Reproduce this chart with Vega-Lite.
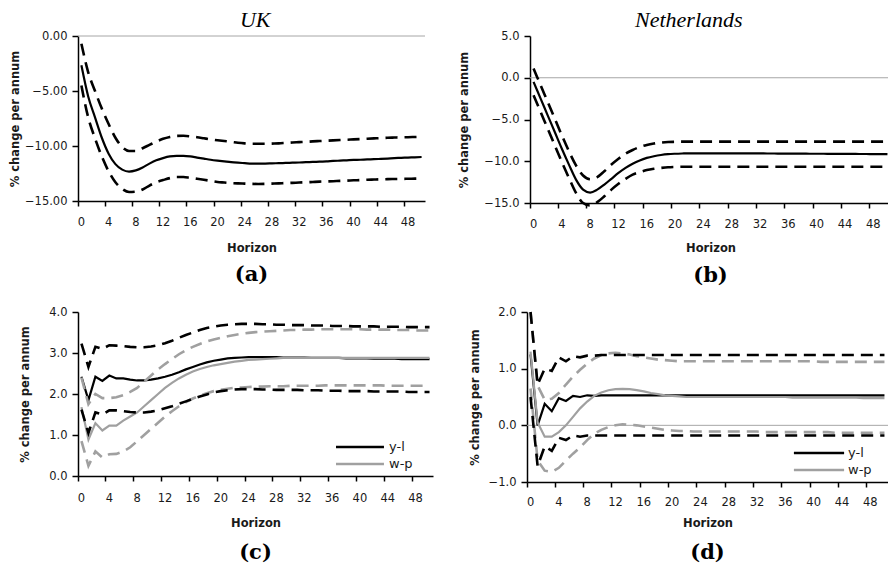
{
"$schema": "https://vega.github.io/schema/vega-lite/v6.json",
"padding": {"left": 9, "top": 9, "right": 0, "bottom": 0},
"config": {
  "view": {"stroke": null},
  "font": "DejaVu Sans",
  "axis": {"labelFont": "DejaVu Sans", "labelFontSize": 11.5, "labelColor": "#1a1a1a", "titleFont": "DejaVu Sans", "titleFontSize": 11.5, "titleFontWeight": "bold", "titleColor": "#1a1a1a", "domainColor": "#000000", "tickColor": "#000000", "domainWidth": 1.5, "tickWidth": 1.5, "grid": false},
  "title": {"color": "#000000"}
},
"datasets": {
"a": [
{"h":0,"m":-2.66,"u":-0.7,"l":-4.5},{"h":1,"m":-5.5,"u":-3.3,"l":-7.4},{"h":2,"m":-7.4,"u":-5.0,"l":-9.3},{"h":3,"m":-9.25,"u":-6.6,"l":-10.95},{"h":4,"m":-10.7,"u":-8.0,"l":-12.3},{"h":5,"m":-11.65,"u":-9.25,"l":-13.3},{"h":6,"m":-12.15,"u":-10.1,"l":-13.9},{"h":7,"m":-12.33,"u":-10.45,"l":-14.18},{"h":8,"m":-12.22,"u":-10.45,"l":-14.15},{"h":9,"m":-11.95,"u":-10.2,"l":-13.95},
{"h":10,"m":-11.6,"u":-9.9,"l":-13.6},{"h":11,"m":-11.3,"u":-9.6,"l":-13.3},{"h":12,"m":-11.1,"u":-9.35,"l":-13.1},{"h":13,"m":-10.95,"u":-9.18,"l":-12.92},{"h":14,"m":-10.9,"u":-9.08,"l":-12.82},{"h":15,"m":-10.9,"u":-9.07,"l":-12.82},{"h":16,"m":-10.95,"u":-9.12,"l":-12.9},{"h":17,"m":-11.05,"u":-9.2,"l":-12.98},{"h":18,"m":-11.15,"u":-9.3,"l":-13.07},{"h":19,"m":-11.25,"u":-9.4,"l":-13.17},
{"h":20,"m":-11.33,"u":-9.48,"l":-13.27},{"h":21,"m":-11.4,"u":-9.55,"l":-13.32},{"h":22,"m":-11.47,"u":-9.62,"l":-13.37},{"h":23,"m":-11.52,"u":-9.7,"l":-13.4},{"h":24,"m":-11.56,"u":-9.76,"l":-13.42},{"h":25,"m":-11.6,"u":-9.8,"l":-13.44},{"h":26,"m":-11.6,"u":-9.8,"l":-13.45},{"h":27,"m":-11.6,"u":-9.8,"l":-13.44},{"h":28,"m":-11.58,"u":-9.78,"l":-13.42},{"h":29,"m":-11.56,"u":-9.76,"l":-13.4},
{"h":30,"m":-11.54,"u":-9.72,"l":-13.37},{"h":31,"m":-11.52,"u":-9.68,"l":-13.35},{"h":32,"m":-11.5,"u":-9.65,"l":-13.32},{"h":33,"m":-11.47,"u":-9.62,"l":-13.3},{"h":34,"m":-11.45,"u":-9.58,"l":-13.27},{"h":35,"m":-11.42,"u":-9.55,"l":-13.24},{"h":36,"m":-11.4,"u":-9.52,"l":-13.22},{"h":37,"m":-11.36,"u":-9.49,"l":-13.2},{"h":38,"m":-11.33,"u":-9.46,"l":-13.17},{"h":39,"m":-11.3,"u":-9.43,"l":-13.15},
{"h":40,"m":-11.27,"u":-9.4,"l":-13.12},{"h":41,"m":-11.25,"u":-9.37,"l":-13.1},{"h":42,"m":-11.22,"u":-9.34,"l":-13.07},{"h":43,"m":-11.2,"u":-9.31,"l":-13.05},{"h":44,"m":-11.17,"u":-9.28,"l":-13.03},{"h":45,"m":-11.14,"u":-9.25,"l":-13.01},{"h":46,"m":-11.1,"u":-9.23,"l":-13.0},{"h":47,"m":-11.08,"u":-9.21,"l":-12.99},{"h":48,"m":-11.05,"u":-9.2,"l":-12.98},{"h":49,"m":-11.03,"u":-9.18,"l":-12.97},{"h":50,"m":-11.0,"u":-9.16,"l":-12.96}
],
"b": [
{"h":0,"m":-0.5,"u":1.1,"l":-2.1},{"h":1,"m":-2.5,"u":-0.9,"l":-4.1},{"h":2,"m":-4.5,"u":-2.9,"l":-6.1},{"h":3,"m":-6.5,"u":-4.9,"l":-8.1},{"h":4,"m":-8.5,"u":-6.9,"l":-10.1},{"h":5,"m":-10.4,"u":-8.8,"l":-12.0},{"h":6,"m":-12.2,"u":-10.5,"l":-13.8},{"h":7,"m":-13.4,"u":-11.7,"l":-15.0},{"h":8,"m":-13.75,"u":-12.15,"l":-15.3},{"h":9,"m":-13.4,"u":-11.9,"l":-14.9},
{"h":10,"m":-12.8,"u":-11.2,"l":-14.2},{"h":11,"m":-12.1,"u":-10.4,"l":-13.4},{"h":12,"m":-11.4,"u":-9.7,"l":-12.7},{"h":13,"m":-10.8,"u":-9.1,"l":-12.1},{"h":14,"m":-10.3,"u":-8.65,"l":-11.6},{"h":15,"m":-9.9,"u":-8.3,"l":-11.3},{"h":16,"m":-9.6,"u":-8.05,"l":-11.05},{"h":17,"m":-9.4,"u":-7.88,"l":-10.9},{"h":18,"m":-9.25,"u":-7.77,"l":-10.8},{"h":19,"m":-9.15,"u":-7.7,"l":-10.72},
{"h":20,"m":-9.1,"u":-7.67,"l":-10.68},{"h":21,"m":-9.07,"u":-7.65,"l":-10.65},{"h":22,"m":-9.05,"u":-7.65,"l":-10.65},{"h":23,"m":-9.05,"u":-7.65,"l":-10.65},{"h":24,"m":-9.05,"u":-7.65,"l":-10.65},{"h":25,"m":-9.05,"u":-7.65,"l":-10.65},{"h":26,"m":-9.05,"u":-7.65,"l":-10.65},{"h":27,"m":-9.05,"u":-7.65,"l":-10.65},{"h":28,"m":-9.05,"u":-7.65,"l":-10.65},{"h":29,"m":-9.05,"u":-7.65,"l":-10.65},
{"h":30,"m":-9.05,"u":-7.65,"l":-10.65},{"h":31,"m":-9.06,"u":-7.65,"l":-10.65},{"h":32,"m":-9.06,"u":-7.65,"l":-10.65},{"h":33,"m":-9.07,"u":-7.65,"l":-10.65},{"h":34,"m":-9.07,"u":-7.65,"l":-10.65},{"h":35,"m":-9.08,"u":-7.65,"l":-10.65},{"h":36,"m":-9.08,"u":-7.65,"l":-10.65},{"h":37,"m":-9.09,"u":-7.65,"l":-10.65},{"h":38,"m":-9.09,"u":-7.65,"l":-10.65},{"h":39,"m":-9.1,"u":-7.65,"l":-10.65},
{"h":40,"m":-9.1,"u":-7.65,"l":-10.65},{"h":41,"m":-9.1,"u":-7.65,"l":-10.65},{"h":42,"m":-9.11,"u":-7.65,"l":-10.65},{"h":43,"m":-9.11,"u":-7.65,"l":-10.65},{"h":44,"m":-9.12,"u":-7.65,"l":-10.65},{"h":45,"m":-9.12,"u":-7.65,"l":-10.65},{"h":46,"m":-9.13,"u":-7.65,"l":-10.65},{"h":47,"m":-9.13,"u":-7.65,"l":-10.65},{"h":48,"m":-9.14,"u":-7.65,"l":-10.65},{"h":49,"m":-9.14,"u":-7.65,"l":-10.65},{"h":50,"m":-9.15,"u":-7.65,"l":-10.65}
],
"c": [
{"h":0,"y":2.42,"yu":3.23,"yl":1.62,"w":1.68,"wu":2.4,"wl":0.85},
{"h":1,"y":1.85,"yu":2.66,"yl":1.05,"w":0.89,"wu":1.75,"wl":0.25},
{"h":2,"y":2.42,"yu":3.15,"yl":1.55,"w":1.29,"wu":2.0,"wl":0.6},
{"h":3,"y":2.32,"yu":3.1,"yl":1.5,"w":1.11,"wu":1.9,"wl":0.45},
{"h":4,"y":2.45,"yu":3.19,"yl":1.6,"w":1.23,"wu":1.9,"wl":0.53},
{"h":5,"y":2.38,"yu":3.18,"yl":1.6,"w":1.23,"wu":1.92,"wl":0.54},
{"h":6,"y":2.38,"yu":3.17,"yl":1.58,"w":1.35,"wu":1.97,"wl":0.6},
{"h":7,"y":2.35,"yu":3.15,"yl":1.56,"w":1.45,"wu":2.05,"wl":0.7},
{"h":8,"y":2.33,"yu":3.14,"yl":1.55,"w":1.55,"wu":2.15,"wl":0.85},
{"h":9,"y":2.33,"yu":3.14,"yl":1.55,"w":1.7,"wu":2.3,"wl":1.0},
{"h":10,"y":2.35,"yu":3.16,"yl":1.57,"w":1.85,"wu":2.45,"wl":1.15},
{"h":11,"y":2.38,"yu":3.19,"yl":1.6,"w":2.0,"wu":2.6,"wl":1.3},
{"h":12,"y":2.42,"yu":3.24,"yl":1.65,"w":2.15,"wu":2.73,"wl":1.45},
{"h":13,"y":2.47,"yu":3.3,"yl":1.7,"w":2.27,"wu":2.85,"wl":1.58},
{"h":14,"y":2.53,"yu":3.37,"yl":1.76,"w":2.38,"wu":2.97,"wl":1.7},
{"h":15,"y":2.6,"yu":3.44,"yl":1.82,"w":2.47,"wu":3.07,"wl":1.8},
{"h":16,"y":2.66,"yu":3.5,"yl":1.88,"w":2.55,"wu":3.15,"wl":1.89},
{"h":17,"y":2.72,"yu":3.56,"yl":1.94,"w":2.61,"wu":3.22,"wl":1.96},
{"h":18,"y":2.77,"yu":3.61,"yl":1.99,"w":2.66,"wu":3.28,"wl":2.02},
{"h":19,"y":2.81,"yu":3.64,"yl":2.04,"w":2.7,"wu":3.33,"wl":2.07},
{"h":20,"y":2.84,"yu":3.67,"yl":2.07,"w":2.73,"wu":3.37,"wl":2.1},
{"h":21,"y":2.87,"yu":3.69,"yl":2.09,"w":2.76,"wu":3.41,"wl":2.13},
{"h":22,"y":2.88,"yu":3.7,"yl":2.11,"w":2.79,"wu":3.44,"wl":2.15},
{"h":23,"y":2.89,"yu":3.71,"yl":2.12,"w":2.81,"wu":3.47,"wl":2.16},
{"h":24,"y":2.9,"yu":3.71,"yl":2.12,"w":2.83,"wu":3.49,"wl":2.17},
{"h":25,"y":2.9,"yu":3.71,"yl":2.12,"w":2.84,"wu":3.51,"wl":2.18},
{"h":26,"y":2.9,"yu":3.7,"yl":2.11,"w":2.85,"wu":3.52,"wl":2.18},
{"h":27,"y":2.9,"yu":3.7,"yl":2.11,"w":2.86,"wu":3.53,"wl":2.19},
{"h":28,"y":2.9,"yu":3.69,"yl":2.1,"w":2.87,"wu":3.54,"wl":2.19},
{"h":29,"y":2.89,"yu":3.69,"yl":2.1,"w":2.88,"wu":3.55,"wl":2.19},
{"h":30,"y":2.89,"yu":3.68,"yl":2.1,"w":2.88,"wu":3.56,"wl":2.2},
{"h":31,"y":2.89,"yu":3.68,"yl":2.1,"w":2.88,"wu":3.56,"wl":2.2},
{"h":32,"y":2.89,"yu":3.68,"yl":2.09,"w":2.88,"wu":3.57,"wl":2.2},
{"h":33,"y":2.88,"yu":3.67,"yl":2.09,"w":2.88,"wu":3.57,"wl":2.2},
{"h":34,"y":2.88,"yu":3.67,"yl":2.09,"w":2.88,"wu":3.58,"wl":2.2},
{"h":35,"y":2.88,"yu":3.67,"yl":2.08,"w":2.88,"wu":3.58,"wl":2.21},
{"h":36,"y":2.88,"yu":3.66,"yl":2.08,"w":2.88,"wu":3.58,"wl":2.21},
{"h":37,"y":2.88,"yu":3.66,"yl":2.08,"w":2.88,"wu":3.58,"wl":2.21},
{"h":38,"y":2.87,"yu":3.66,"yl":2.07,"w":2.88,"wu":3.58,"wl":2.21},
{"h":39,"y":2.87,"yu":3.65,"yl":2.07,"w":2.88,"wu":3.58,"wl":2.21},
{"h":40,"y":2.87,"yu":3.65,"yl":2.07,"w":2.88,"wu":3.58,"wl":2.21},
{"h":41,"y":2.87,"yu":3.65,"yl":2.07,"w":2.88,"wu":3.57,"wl":2.21},
{"h":42,"y":2.86,"yu":3.65,"yl":2.06,"w":2.88,"wu":3.57,"wl":2.21},
{"h":43,"y":2.86,"yu":3.64,"yl":2.06,"w":2.88,"wu":3.57,"wl":2.21},
{"h":44,"y":2.86,"yu":3.64,"yl":2.06,"w":2.88,"wu":3.57,"wl":2.2},
{"h":45,"y":2.86,"yu":3.64,"yl":2.06,"w":2.88,"wu":3.56,"wl":2.2},
{"h":46,"y":2.85,"yu":3.64,"yl":2.06,"w":2.88,"wu":3.56,"wl":2.2},
{"h":47,"y":2.85,"yu":3.63,"yl":2.05,"w":2.88,"wu":3.56,"wl":2.2},
{"h":48,"y":2.85,"yu":3.63,"yl":2.05,"w":2.88,"wu":3.55,"wl":2.2},
{"h":49,"y":2.85,"yu":3.63,"yl":2.05,"w":2.88,"wu":3.55,"wl":2.2},
{"h":50,"y":2.85,"yu":3.63,"yl":2.05,"w":2.88,"wu":3.55,"wl":2.2}
],
"d": [
{"h":0,"y":1.25,"yu":2.0,"yl":0.5,"w":1.3,"wu":2.0,"wl":0.65},
{"h":1,"y":0.0,"yu":0.72,"yl":-0.72,"w":0.05,"wu":0.7,"wl":-0.62},
{"h":2,"y":0.38,"yu":1.0,"yl":-0.37,"w":-0.2,"wu":0.45,"wl":-0.8},
{"h":3,"y":0.25,"yu":0.96,"yl":-0.45,"w":-0.2,"wu":0.47,"wl":-0.82},
{"h":4,"y":0.48,"yu":1.2,"yl":-0.22,"w":-0.12,"wu":0.57,"wl":-0.75},
{"h":5,"y":0.43,"yu":1.13,"yl":-0.26,"w":0.0,"wu":0.72,"wl":-0.62},
{"h":6,"y":0.52,"yu":1.22,"yl":-0.18,"w":0.15,"wu":0.86,"wl":-0.5},
{"h":7,"y":0.5,"yu":1.2,"yl":-0.2,"w":0.3,"wu":0.98,"wl":-0.39},
{"h":8,"y":0.53,"yu":1.23,"yl":-0.18,"w":0.42,"wu":1.09,"wl":-0.26},
{"h":9,"y":0.52,"yu":1.23,"yl":-0.18,"w":0.52,"wu":1.18,"wl":-0.15},
{"h":10,"y":0.53,"yu":1.24,"yl":-0.18,"w":0.58,"wu":1.24,"wl":-0.08},
{"h":11,"y":0.53,"yu":1.24,"yl":-0.18,"w":0.62,"wu":1.27,"wl":-0.03},
{"h":12,"y":0.53,"yu":1.24,"yl":-0.18,"w":0.64,"wu":1.28,"wl":0.0},
{"h":13,"y":0.53,"yu":1.24,"yl":-0.18,"w":0.645,"wu":1.27,"wl":0.02},
{"h":14,"y":0.53,"yu":1.24,"yl":-0.18,"w":0.64,"wu":1.25,"wl":0.01},
{"h":15,"y":0.53,"yu":1.24,"yl":-0.18,"w":0.62,"wu":1.22,"wl":0.0},
{"h":16,"y":0.53,"yu":1.24,"yl":-0.18,"w":0.6,"wu":1.2,"wl":-0.02},
{"h":17,"y":0.53,"yu":1.24,"yl":-0.18,"w":0.57,"wu":1.18,"wl":-0.04},
{"h":18,"y":0.53,"yu":1.24,"yl":-0.18,"w":0.55,"wu":1.16,"wl":-0.06},
{"h":19,"y":0.53,"yu":1.24,"yl":-0.18,"w":0.53,"wu":1.15,"wl":-0.08},
{"h":20,"y":0.53,"yu":1.24,"yl":-0.18,"w":0.52,"wu":1.14,"wl":-0.09},
{"h":21,"y":0.53,"yu":1.24,"yl":-0.18,"w":0.51,"wu":1.13,"wl":-0.1},
{"h":22,"y":0.53,"yu":1.24,"yl":-0.18,"w":0.5,"wu":1.13,"wl":-0.1},
{"h":23,"y":0.53,"yu":1.24,"yl":-0.18,"w":0.5,"wu":1.13,"wl":-0.11},
{"h":24,"y":0.53,"yu":1.24,"yl":-0.18,"w":0.5,"wu":1.13,"wl":-0.11},
{"h":25,"y":0.53,"yu":1.24,"yl":-0.18,"w":0.5,"wu":1.13,"wl":-0.11},
{"h":26,"y":0.53,"yu":1.24,"yl":-0.18,"w":0.5,"wu":1.13,"wl":-0.11},
{"h":27,"y":0.53,"yu":1.24,"yl":-0.18,"w":0.5,"wu":1.13,"wl":-0.11},
{"h":28,"y":0.53,"yu":1.24,"yl":-0.18,"w":0.5,"wu":1.13,"wl":-0.11},
{"h":29,"y":0.53,"yu":1.24,"yl":-0.18,"w":0.5,"wu":1.13,"wl":-0.11},
{"h":30,"y":0.53,"yu":1.24,"yl":-0.18,"w":0.5,"wu":1.13,"wl":-0.11},
{"h":31,"y":0.53,"yu":1.24,"yl":-0.18,"w":0.5,"wu":1.13,"wl":-0.11},
{"h":32,"y":0.53,"yu":1.24,"yl":-0.18,"w":0.5,"wu":1.13,"wl":-0.11},
{"h":33,"y":0.53,"yu":1.24,"yl":-0.18,"w":0.5,"wu":1.13,"wl":-0.12},
{"h":34,"y":0.53,"yu":1.24,"yl":-0.18,"w":0.5,"wu":1.13,"wl":-0.12},
{"h":35,"y":0.53,"yu":1.24,"yl":-0.18,"w":0.5,"wu":1.13,"wl":-0.12},
{"h":36,"y":0.53,"yu":1.24,"yl":-0.18,"w":0.5,"wu":1.13,"wl":-0.12},
{"h":37,"y":0.53,"yu":1.24,"yl":-0.18,"w":0.49,"wu":1.13,"wl":-0.12},
{"h":38,"y":0.53,"yu":1.24,"yl":-0.18,"w":0.49,"wu":1.13,"wl":-0.12},
{"h":39,"y":0.53,"yu":1.24,"yl":-0.18,"w":0.49,"wu":1.13,"wl":-0.12},
{"h":40,"y":0.53,"yu":1.24,"yl":-0.18,"w":0.49,"wu":1.13,"wl":-0.12},
{"h":41,"y":0.53,"yu":1.24,"yl":-0.18,"w":0.49,"wu":1.12,"wl":-0.12},
{"h":42,"y":0.53,"yu":1.24,"yl":-0.18,"w":0.49,"wu":1.12,"wl":-0.12},
{"h":43,"y":0.53,"yu":1.24,"yl":-0.18,"w":0.49,"wu":1.12,"wl":-0.13},
{"h":44,"y":0.53,"yu":1.24,"yl":-0.18,"w":0.49,"wu":1.12,"wl":-0.13},
{"h":45,"y":0.53,"yu":1.24,"yl":-0.18,"w":0.49,"wu":1.12,"wl":-0.13},
{"h":46,"y":0.53,"yu":1.24,"yl":-0.18,"w":0.49,"wu":1.12,"wl":-0.13},
{"h":47,"y":0.53,"yu":1.24,"yl":-0.18,"w":0.48,"wu":1.12,"wl":-0.13},
{"h":48,"y":0.53,"yu":1.24,"yl":-0.18,"w":0.48,"wu":1.12,"wl":-0.13},
{"h":49,"y":0.53,"yu":1.24,"yl":-0.18,"w":0.48,"wu":1.12,"wl":-0.13},
{"h":50,"y":0.53,"yu":1.24,"yl":-0.18,"w":0.48,"wu":1.12,"wl":-0.13}
]
},
"spacing": 20,
"vconcat": [
{
"spacing": 31,
"hconcat": [
{
"title": {"text": "UK", "font": "Liberation Serif", "fontStyle": "italic", "fontWeight": "normal", "fontSize": 22, "anchor": "middle", "frame": "bounds", "dx": 37, "offset": -2},
"vconcat": [
{
"width": 347, "height": 165,
"data": {"name": "a"},
"title": {"text": "(a)", "orient": "bottom", "font": "DejaVu Serif", "fontWeight": "bold", "fontSize": 21, "anchor": "middle", "frame": "group", "offset": 10},
"layer": [
{"data": {"values": [{}]}, "mark": {"type": "rule", "color": "#a6a6a6", "strokeWidth": 1}, "encoding": {"y": {"datum": 0}}},
{"mark": {"type": "line", "color": "#000000", "strokeWidth": 2.2, "interpolate": "monotone"},
 "encoding": {
  "x": {"field": "h", "type": "ordinal", "title": "Horizon", "scale": {"type": "band", "paddingInner": 0, "paddingOuter": 0}, "axis": {"values": [0,4,8,12,16,20,24,28,32,36,40,44,48], "bandPosition": 0, "labelAngle": 0, "tickSize": 5, "labelPadding": 10, "titlePadding": 14.7}},
  "y": {"field": "m", "type": "quantitative", "title": "% change per annum", "scale": {"domain": [-15, 0], "nice": false, "zero": false}, "axis": {"values": [-15,-12.5,-10,-7.5,-5,-2.5,0], "format": ".2f", "tickSize": 6, "labelPadding": 5, "minExtent": 52, "maxExtent": 52, "titlePadding": 5.4}}
 }},
{"mark": {"type": "line", "color": "#000000", "strokeWidth": 2.6, "strokeDash": [12, 7], "interpolate": "monotone"},
 "encoding": {"x": {"field": "h", "type": "ordinal", "title": "Horizon"}, "y": {"field": "u", "type": "quantitative", "title": "% change per annum"}}},
{"mark": {"type": "line", "color": "#000000", "strokeWidth": 2.6, "strokeDash": [12, 7], "interpolate": "monotone"},
 "encoding": {"x": {"field": "h", "type": "ordinal", "title": "Horizon"}, "y": {"field": "l", "type": "quantitative", "title": "% change per annum"}}}
]
}
]
},
{
"title": {"text": "Netherlands", "font": "Liberation Serif", "fontStyle": "italic", "fontWeight": "normal", "fontSize": 22, "anchor": "middle", "frame": "bounds", "dx": 13, "offset": -2},
"vconcat": [
{
"width": 361, "height": 167,
"data": {"name": "b"},
"title": {"text": "(b)", "orient": "bottom", "font": "DejaVu Serif", "fontWeight": "bold", "fontSize": 21, "anchor": "middle", "frame": "group", "offset": 11},
"layer": [
{"data": {"values": [{}]}, "mark": {"type": "rule", "color": "#a6a6a6", "strokeWidth": 1}, "encoding": {"y": {"datum": 0}}},
{"mark": {"type": "line", "color": "#000000", "strokeWidth": 2.2, "interpolate": "monotone"},
 "encoding": {
  "x": {"field": "h", "type": "ordinal", "title": "Horizon", "scale": {"type": "band", "paddingInner": 0, "paddingOuter": 0}, "axis": {"values": [0,4,8,12,16,20,24,28,32,36,40,44,48], "bandPosition": 0, "labelAngle": 0, "tickSize": 5, "labelPadding": 10, "titlePadding": 12.7}},
  "y": {"field": "m", "type": "quantitative", "title": "% change per annum", "scale": {"domain": [-15, 5], "nice": false, "zero": false}, "axis": {"values": [-15,-10,-5,0,5], "format": ".1f", "tickSize": 6, "labelPadding": 5, "minExtent": 54.7, "maxExtent": 54.7, "titlePadding": 5.4}}
 }},
{"mark": {"type": "line", "color": "#000000", "strokeWidth": 2.6, "strokeDash": [12, 7], "interpolate": "monotone"},
 "encoding": {"x": {"field": "h", "type": "ordinal", "title": "Horizon"}, "y": {"field": "u", "type": "quantitative", "title": "% change per annum"}}},
{"mark": {"type": "line", "color": "#000000", "strokeWidth": 2.6, "strokeDash": [12, 7], "interpolate": "monotone"},
 "encoding": {"x": {"field": "h", "type": "ordinal", "title": "Horizon"}, "y": {"field": "l", "type": "quantitative", "title": "% change per annum"}}}
]
}
]
}
]
},
{
"spacing": 34,
"resolve": {"scale": {"stroke": "independent"}, "legend": {"stroke": "independent"}},
"hconcat": [
{
"width": 355, "height": 164,
"data": {"name": "c"},
"title": {"text": "(c)", "orient": "bottom", "font": "DejaVu Serif", "fontWeight": "bold", "fontSize": 21, "anchor": "middle", "frame": "group", "offset": 12.5},
"layer": [
{"mark": {"type": "line", "strokeWidth": 2.2},
 "encoding": {
  "x": {"field": "h", "type": "ordinal", "title": "Horizon", "scale": {"type": "band", "paddingInner": 0, "paddingOuter": 0}, "axis": {"values": [0,4,8,12,16,20,24,28,32,36,40,44,48], "bandPosition": 0, "labelAngle": 0, "tickSize": 5, "labelPadding": 11.5, "titlePadding": 13.7}},
  "y": {"field": "y", "type": "quantitative", "title": "% change per annum", "scale": {"domain": [0, 4], "nice": false}, "axis": {"values": [0,1,2,3,4], "format": ".1f", "tickSize": 6, "labelPadding": 5, "minExtent": 42.4, "maxExtent": 42.4, "titlePadding": 5.4}},
  "stroke": {"datum": "y-l", "type": "nominal", "scale": {"domain": ["y-l", "w-p"], "range": ["#000000", "#a0a0a0"]}, "legend": {"title": null, "orient": "none", "legendX": 272, "legendY": 125, "symbolType": "M-2.82,0H2.82", "symbolSize": 289, "symbolStrokeWidth": 2.5, "symbolDash": [1, 0], "labelFont": "DejaVu Sans", "labelFontSize": 13, "labelOffset": 19, "rowPadding": 0, "labelColor": "#1a1a1a"}}
 }},
{"mark": {"type": "line", "strokeWidth": 2.2},
 "encoding": {"x": {"field": "h", "type": "ordinal", "title": "Horizon"}, "y": {"field": "w", "type": "quantitative", "title": "% change per annum"}, "stroke": {"datum": "w-p", "type": "nominal"}}},
{"mark": {"type": "line", "strokeWidth": 2.6, "strokeDash": [12, 7]},
 "encoding": {"x": {"field": "h", "type": "ordinal", "title": "Horizon"}, "y": {"field": "wu", "type": "quantitative", "title": "% change per annum"}, "stroke": {"datum": "w-p", "type": "nominal"}}},
{"mark": {"type": "line", "strokeWidth": 2.6, "strokeDash": [12, 7]},
 "encoding": {"x": {"field": "h", "type": "ordinal", "title": "Horizon"}, "y": {"field": "wl", "type": "quantitative", "title": "% change per annum"}, "stroke": {"datum": "w-p", "type": "nominal"}}},
{"mark": {"type": "line", "strokeWidth": 2.6, "strokeDash": [12, 7]},
 "encoding": {"x": {"field": "h", "type": "ordinal", "title": "Horizon"}, "y": {"field": "yu", "type": "quantitative", "title": "% change per annum"}, "stroke": {"datum": "y-l", "type": "nominal"}}},
{"mark": {"type": "line", "strokeWidth": 2.6, "strokeDash": [12, 7]},
 "encoding": {"x": {"field": "h", "type": "ordinal", "title": "Horizon"}, "y": {"field": "yl", "type": "quantitative", "title": "% change per annum"}, "stroke": {"datum": "y-l", "type": "nominal"}}}
]
},
{
"width": 361, "height": 170,
"data": {"name": "d"},
"title": {"text": "(d)", "orient": "bottom", "font": "DejaVu Serif", "fontWeight": "bold", "fontSize": 21, "anchor": "middle", "frame": "group", "offset": 12.7},
"layer": [
{"data": {"values": [{}]}, "mark": {"type": "rule", "color": "#a6a6a6", "strokeWidth": 1}, "encoding": {"y": {"datum": 0}}},
{"mark": {"type": "line", "strokeWidth": 2.2},
 "encoding": {
  "x": {"field": "h", "type": "ordinal", "title": "Horizon", "scale": {"type": "band", "paddingInner": 0, "paddingOuter": 0}, "axis": {"values": [0,4,8,12,16,20,24,28,32,36,40,44,48], "bandPosition": 0, "labelAngle": 0, "tickSize": 5, "labelPadding": 9, "titlePadding": 10.3}},
  "y": {"field": "y", "type": "quantitative", "title": "% change per annum", "scale": {"domain": [-1, 2], "nice": false, "zero": false}, "axis": {"values": [-1,-0.5,0,0.5,1,1.5,2], "format": ".1f", "tickSize": 6, "labelPadding": 5, "minExtent": 40.7, "maxExtent": 40.7, "titlePadding": 5.4}},
  "stroke": {"datum": "y-l", "type": "nominal", "scale": {"domain": ["y-l", "w-p"], "range": ["#000000", "#a0a0a0"]}, "legend": {"title": null, "orient": "none", "legendX": 282, "legendY": 131, "symbolType": "M-3,0H3", "symbolSize": 280, "symbolStrokeWidth": 2.5, "symbolDash": [1, 0], "labelFont": "DejaVu Sans", "labelFontSize": 13, "labelOffset": 19, "rowPadding": 0, "labelColor": "#1a1a1a"}}
 }},
{"mark": {"type": "line", "strokeWidth": 2.2},
 "encoding": {"x": {"field": "h", "type": "ordinal", "title": "Horizon"}, "y": {"field": "w", "type": "quantitative", "title": "% change per annum"}, "stroke": {"datum": "w-p", "type": "nominal"}}},
{"mark": {"type": "line", "strokeWidth": 2.6, "strokeDash": [12, 7]},
 "encoding": {"x": {"field": "h", "type": "ordinal", "title": "Horizon"}, "y": {"field": "wu", "type": "quantitative", "title": "% change per annum"}, "stroke": {"datum": "w-p", "type": "nominal"}}},
{"mark": {"type": "line", "strokeWidth": 2.6, "strokeDash": [12, 7]},
 "encoding": {"x": {"field": "h", "type": "ordinal", "title": "Horizon"}, "y": {"field": "wl", "type": "quantitative", "title": "% change per annum"}, "stroke": {"datum": "w-p", "type": "nominal"}}},
{"mark": {"type": "line", "strokeWidth": 2.6, "strokeDash": [12, 7]},
 "encoding": {"x": {"field": "h", "type": "ordinal", "title": "Horizon"}, "y": {"field": "yu", "type": "quantitative", "title": "% change per annum"}, "stroke": {"datum": "y-l", "type": "nominal"}}},
{"mark": {"type": "line", "strokeWidth": 2.6, "strokeDash": [12, 7]},
 "encoding": {"x": {"field": "h", "type": "ordinal", "title": "Horizon"}, "y": {"field": "yl", "type": "quantitative", "title": "% change per annum"}, "stroke": {"datum": "y-l", "type": "nominal"}}}
]
}
]
}
]
}
